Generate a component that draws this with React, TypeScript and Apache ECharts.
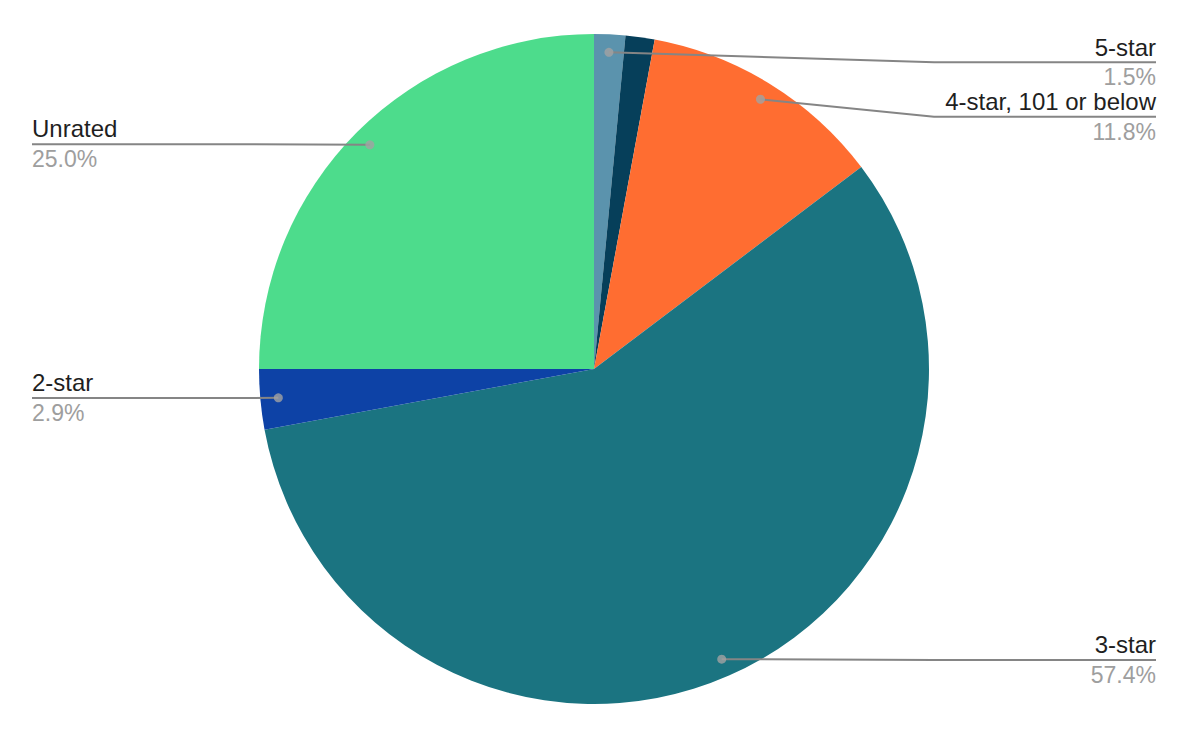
import React, { useEffect, useRef } from 'react';
import * as echarts from 'echarts';

const categories = ['5-star', '4-star, 102 or above', '4-star, 101 or below', '3-star', '2-star', 'Unrated'];
const shares = [1.5, 1.4, 11.8, 57.4, 2.9, 25.0];
const colors = ['#5b93ad', '#063f5a', '#ff6d31', '#1b7481', '#0d42a6', '#4ddc8c'];
const labelled = [true, false, true, true, true, true];

const W = 1188;
const H = 736;
const CX = 594;
const CY = 369;
const R = 335;
const DOT_R = 317;
const FONT = '"Liberation Sans", Arial, sans-serif';
// small vertical nudges (px) for crowded top-right labels
const LABEL_NUDGE: Record<number, number> = { 0: 11, 2: 12 };

export default function App() {
  const ref = useRef<HTMLDivElement>(null);
  useEffect(() => {
    if (!ref.current) return;
    const chart = echarts.init(ref.current, undefined, { renderer: 'svg' });
    const total = shares.reduce((a, b) => a + b, 0);
    const dots: number[][] = [];
    let acc = 0;
    shares.forEach((v, i) => {
      if (labelled[i]) dots.push([DOT_R, acc + v / 2]);
      acc += v;
    });
    const pieData = categories.map((name, i) => ({
      name,
      value: shares[i],
      itemStyle: { color: colors[i] },
    }));
    const labelData = categories.map((name, i) => ({
      name,
      value: shares[i],
      label: labelled[i] ? undefined : { show: false },
      labelLine: labelled[i] ? undefined : { show: false },
    }));
    chart.setOption({
      animation: false,
      backgroundColor: '#ffffff',
      polar: { center: [CX, CY], radius: R },
      angleAxis: { type: 'value', min: 0, max: total, startAngle: 90, clockwise: true, show: false },
      radiusAxis: { type: 'value', min: 0, max: R, show: false },
      series: [
        {
          type: 'pie',
          z: 1,
          center: [CX, CY],
          radius: R,
          startAngle: 90,
          clockwise: true,
          silent: true,
          label: { show: false },
          labelLine: { show: false },
          itemStyle: { borderWidth: 0 },
          data: pieData,
        },
        {
          type: 'pie',
          z: 3,
          center: [CX, CY],
          radius: DOT_R,
          startAngle: 90,
          clockwise: true,
          silent: true,
          itemStyle: { color: 'rgba(0,0,0,0)', borderWidth: 0 },
          label: {
            show: true,
            position: 'outside',
            alignTo: 'edge',
            edgeDistance: 32,
            minMargin: 0,
            fontFamily: FONT,
            formatter: (p: any) => `{n|${p.name}}\n{p|${Number(p.percent).toFixed(1)}%}`,
            rich: {
              n: { fontSize: 24, color: '#1f1f1f', lineHeight: 30, fontFamily: FONT },
              p: { fontSize: 23, color: '#9e9e9e', lineHeight: 30, fontFamily: FONT },
            },
          },
          labelLine: {
            show: true,
            length: 1,
            length2: 1,
            lineStyle: { color: '#858585', width: 2 },
          },
          labelLayout: (params: any) => {
            const pts = params.labelLinePoints;
            if (!pts) return {};
            const isLeft = params.labelRect.x < W / 2;
            const nudge = LABEL_NUDGE[params.dataIndex] || 0;
            const y = pts[2][1] + nudge;
            const elbowX = isLeft ? CX - R - 5 : CX + R + 5;
            const endX = isLeft ? params.labelRect.x : params.labelRect.x + params.labelRect.width;
            return {
              y: params.labelRect.y + params.labelRect.height / 2 + nudge,
              labelLinePoints: [pts[0], [elbowX, y], [endX, y]],
            };
          },
          data: labelData,
        },
        {
          type: 'scatter',
          coordinateSystem: 'polar',
          symbol: 'circle',
          symbolSize: 9,
          silent: true,
          itemStyle: { color: '#a3a3a3' },
          data: dots,
          z: 10,
        },
      ],
    });
    return () => chart.dispose();
  }, []);
  return (
    <div
      ref={ref}
      style={{ position: 'fixed', left: 0, top: 0, width: W, height: H, background: '#fff' }}
    />
  );
}
